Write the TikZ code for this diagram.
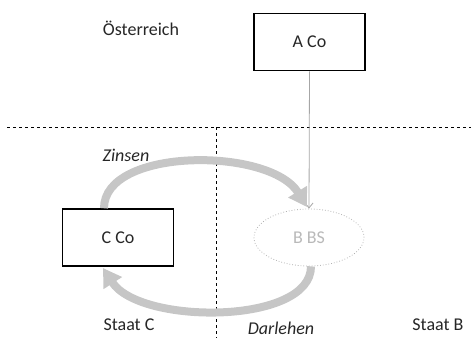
\documentclass[tikz,border=0pt]{standalone}
\usepackage{fontspec}
\setmainfont{Carlito}
\usetikzlibrary{shapes.geometric,arrows.meta}
\tikzset{
  txt/.style={font=\fontsize{18}{21}\selectfont, text=black!85},
  box/.style={draw, line width=1.5pt, minimum width=111pt, minimum height=57pt, txt},
  lbl/.style={txt, inner sep=0pt},
  ilbl/.style={txt, inner sep=0pt, font=\fontsize{18}{21}\selectfont\itshape},
  fat/.style={line width=8pt, draw=gray!45, -{Triangle[width=21pt,length=18pt]}},
  border/.style={dashed, line width=0.8pt},
}
\begin{document}
\begin{tikzpicture}[x=1pt,y=-1pt]
\useasboundingbox (0,0) rectangle (471,338);
\node[box] (aco) at (309.5,42) {A Co};
\node[box] (cco) at (118,237.5) {C Co};
\node[ellipse, draw=gray!60, dotted, line width=0.8pt, minimum width=110pt, minimum height=57pt, text=gray!55, font=\fontsize{18}{21}\selectfont] (bbs) at (309,237.5) {B BS};
\draw[border] (7,127) -- (471,127);
\draw[border] (216,127) -- (216,338);
\draw[gray!70, line width=0.8pt, -{Straight Barb[length=5pt,width=8pt]}] (aco.south) -- (bbs.north);
\coordinate (u1) at ([xshift=-14pt]cco.north);
\coordinate (u2) at (307,207);
\coordinate (l1) at ([xshift=2pt]bbs.south);
\coordinate (l2) at (103,268);
\draw[fat] (u1) .. controls (104,147) and (270,147) .. (u2);
\draw[fat] (l1) .. controls (311,325) and (140,325) .. (l2);
\node[lbl] (oe) at (141,28) {Österreich};
\node[ilbl] (zi) at (126,155) {Zinsen};
\node[lbl] (sc) at (129,325) {Staat C};
\node[ilbl] (da) at (281,328) {Darlehen};
\node[lbl] (sb) at (438,325) {Staat B};
\end{tikzpicture}
\end{document}
